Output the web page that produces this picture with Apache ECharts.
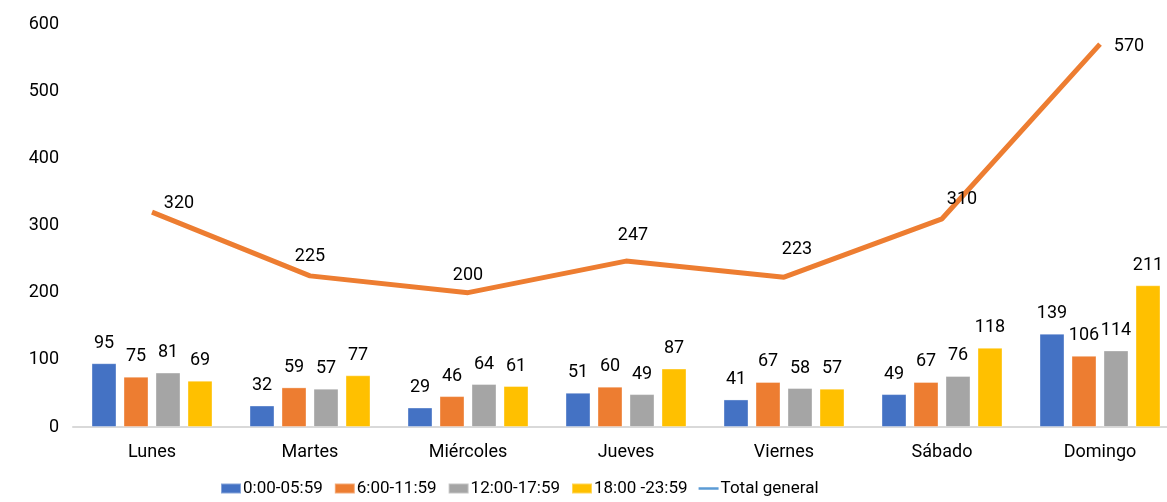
<!DOCTYPE html>
<html>
<head>
<meta charset="utf-8">
<script src="https://cdn.jsdelivr.net/npm/echarts@6/dist/echarts.min.js"></script>
<style>
  html, body { margin: 0; padding: 0; background: #fff; }
  #chart { width: 1167px; height: 502px; }
</style>
</head>
<body>
<div id="chart"></div>
<script>
// Días de la semana
const dias = ['Lunes', 'Martes', 'Miércoles', 'Jueves', 'Viernes', 'Sábado', 'Domingo'];

// Franjas horarias
const franja1 = [95, 32, 29, 51, 41, 49, 139];   // 0:00-05:59
const franja2 = [75, 59, 46, 60, 67, 67, 106];   // 6:00-11:59
const franja3 = [81, 57, 64, 49, 58, 76, 114];   // 12:00-17:59
const franja4 = [69, 77, 61, 87, 57, 118, 211];  // 18:00 -23:59
const totalGeneral = [320, 225, 200, 247, 223, 310, 570];

const nombres = ['0:00-05:59', '6:00-11:59', '12:00-17:59', '18:00 -23:59', 'Total general'];
const colores = ['#4472C4', '#ED7D31', '#A5A5A5', '#FFC000'];

// Desplazamiento de cada etiqueta del total respecto a su punto
const desplazTotal = [[27, 1], [0, -10], [0, -8], [7, -16], [13, -18], [20, -10], [29, 12]];

const fuente = 'Roboto, "Noto Sans", sans-serif';
const tam = 18;

const chart = echarts.init(document.getElementById('chart'));

const texto = (extra) => Object.assign({
  color: '#000',
  fontSize: tam,
  fontFamily: fuente
}, extra || {});

const barra = (nombre, datos, color) => ({
  name: nombre,
  type: 'bar',
  data: datos,
  barWidth: 25,
  barGap: '28%',
  itemStyle: { color: color, borderColor: 'rgba(255,255,255,0.35)', borderWidth: 1 },
  label: texto({ show: true, position: 'top', distance: 11 })
});

chart.setOption({
  animation: false,
  textStyle: { fontFamily: fuente },
  grid: { left: 73, top: 24, right: -12, height: 403, outerBoundsMode: 'none', containLabel: false },
  legend: {
    left: 215,
    bottom: 0,
    itemWidth: 20,
    itemHeight: 10,
    itemGap: 11,
    textStyle: texto({ fontSize: 17, padding: [0, 0, 0, -3] }),
    data: [
      { name: nombres[0], icon: 'rect' },
      { name: nombres[1], icon: 'rect' },
      { name: nombres[2], icon: 'rect' },
      { name: nombres[3], icon: 'rect' },
      { name: nombres[4], icon: 'path://M0,0 L24,0 L24,3 L0,3 Z', itemStyle: { color: '#5B9BD5', opacity: 1 } }
    ]
  },
  xAxis: {
    type: 'category',
    data: dias,
    axisLine: { lineStyle: { color: '#D9D9D9', width: 2 } },
    axisTick: { show: false },
    axisLabel: texto({ margin: 16 })
  },
  yAxis: {
    type: 'value',
    min: 0,
    max: 600,
    interval: 100,
    axisLine: { show: false },
    axisTick: { show: false },
    splitLine: { show: false },
    axisLabel: texto({ margin: 14 })
  },
  series: [
    barra(nombres[0], franja1, colores[0]),
    barra(nombres[1], franja2, colores[1]),
    barra(nombres[2], franja3, colores[2]),
    barra(nombres[3], franja4, colores[3]),
    {
      name: nombres[4],
      type: 'line',
      data: totalGeneral,
      symbol: 'circle',
      symbolSize: 1,
      showSymbol: true,
      lineStyle: { color: '#ED7D31', width: 5 },
      itemStyle: { color: 'rgba(237,125,49,0)' },
      label: texto({ show: true, position: 'top', distance: 0, opacity: 1 }),
      labelLayout: (p) => ({
        dx: desplazTotal[p.dataIndex][0],
        dy: desplazTotal[p.dataIndex][1],
        hideOverlap: false
      }),
      z: 5
    }
  ]
});
</script>
</body>
</html>
